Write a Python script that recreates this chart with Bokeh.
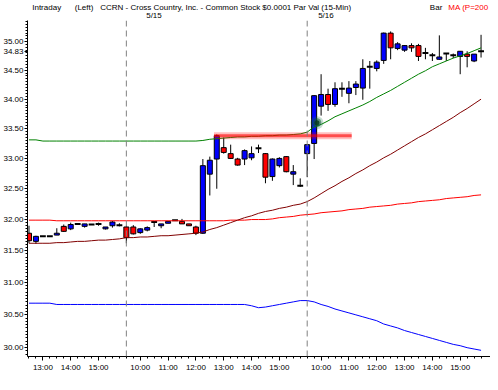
from bokeh.plotting import figure
from bokeh.layouts import column
from bokeh.models import Range1d, FixedTicker, NumeralTickFormatter, Label, Span, ColumnDataSource
from bokeh.embed import file_html
from bokeh.resources import INLINE

# ---------------- data (15-minute bars, 5/14 12:30 -> 5/16 15:45) ----------------
opens = [31.78, 31.65, 31.73, 31.73, 31.75, 31.89, 31.85, 31.93, 31.89, 31.92,
         31.93, 31.85, 31.90, 31.91, 31.88, 31.88, 31.79, 31.83, 31.96, 31.90,
         31.94, 31.99, 31.97, 31.93, 31.88, 31.78, 32.74, 32.99, 33.18, 33.08,
         32.99, 32.99, 33.01, 33.17, 33.08, 32.70, 32.88, 33.03, 32.74, 32.55,
         33.08, 33.25, 33.88, 34.08, 33.91, 34.18, 34.10, 34.20, 34.19, 34.56,
         34.53, 34.67, 35.15, 34.88, 34.85, 34.93, 34.93, 34.80, 34.76, 34.69,
         34.79, 34.76, 34.74, 34.78, 34.66, 34.83]
highs = [31.90, 31.74, 31.73, 31.73, 31.86, 31.92, 31.95, 31.93, 31.93, 31.92,
         31.95, 31.88, 31.98, 31.94, 31.90, 31.91, 31.86, 31.89, 31.96, 31.93,
         31.97, 31.99, 32.01, 31.93, 31.90, 32.99, 33.03, 33.40, 33.35, 33.23,
         33.01, 33.15, 33.20, 33.23, 33.09, 33.00, 33.02, 33.04, 32.89, 32.67,
         33.24, 34.07, 34.43, 34.18, 34.29, 34.29, 34.31, 34.31, 34.69, 34.66,
         34.67, 35.16, 35.18, 34.99, 34.94, 34.97, 34.96, 34.89, 34.80, 35.11,
         34.79, 34.79, 34.83, 34.83, 34.78, 35.12]
lows = [31.62, 31.61, 31.73, 31.73, 31.75, 31.80, 31.83, 31.93, 31.87, 31.92,
        31.90, 31.84, 31.87, 31.89, 31.62, 31.76, 31.77, 31.81, 31.88, 31.86,
        31.94, 31.99, 31.93, 31.90, 31.75, 31.77, 32.39, 32.50, 33.08, 32.99,
        32.88, 32.89, 32.97, 33.09, 32.59, 32.63, 32.85, 32.77, 32.56, 32.53,
        32.69, 32.99, 33.72, 33.80, 33.87, 34.04, 33.93, 34.07, 33.99, 34.18,
        34.48, 34.61, 34.69, 34.85, 34.82, 34.82, 34.66, 34.69, 34.66, 34.68,
        34.66, 34.71, 34.43, 34.55, 34.64, 34.72]
closes = [31.66, 31.73, 31.73, 31.73, 31.78, 31.81, 31.92, 31.93, 31.93, 31.92,
          31.93, 31.88, 31.96, 31.91, 31.71, 31.77, 31.85, 31.87, 31.96, 31.93,
          31.97, 31.99, 31.93, 31.90, 31.78, 32.88, 32.97, 33.38, 33.10, 33.00,
          32.89, 33.13, 33.08, 33.17, 32.69, 32.99, 33.00, 32.78, 32.78, 32.55,
          33.23, 34.06, 34.08, 33.91, 34.18, 34.18, 34.19, 34.26, 34.53, 34.56,
          34.64, 35.15, 34.89, 34.96, 34.93, 34.89, 34.74, 34.80, 34.76, 34.73,
          34.79, 34.76, 34.83, 34.74, 34.78, 34.83]

ma_green = [33.31, 33.31, 33.29, 33.29, 33.29, 33.29, 33.29, 33.29, 33.29, 33.29,
            33.29, 33.29, 33.29, 33.29, 33.29, 33.29, 33.29, 33.29, 33.29, 33.29,
            33.29, 33.29, 33.29, 33.29, 33.29, 33.30, 33.32, 33.33, 33.34, 33.35,
            33.36, 33.36, 33.37, 33.37, 33.38, 33.38, 33.39, 33.39, 33.40, 33.41,
            33.44, 33.53, 33.57, 33.63, 33.70, 33.75, 33.80, 33.85, 33.90, 33.96,
            34.03, 34.09, 34.15, 34.22, 34.29, 34.36, 34.43, 34.49, 34.56, 34.61,
            34.66, 34.71, 34.75, 34.79, 34.84, 34.89]
ma_red = [31.99, 31.99, 31.99, 31.99, 31.98, 31.98, 31.98, 31.98, 31.98, 31.98,
          31.98, 31.98, 31.98, 31.98, 31.98, 31.98, 31.98, 31.98, 31.98, 31.98,
          31.98, 31.98, 31.98, 31.98, 31.98, 31.98, 31.98, 31.98, 31.98, 31.99,
          31.99, 31.99, 32.00, 32.00, 32.00, 32.01, 32.03, 32.04, 32.05, 32.07,
          32.08, 32.09, 32.11, 32.12, 32.13, 32.14, 32.16, 32.17, 32.18, 32.20,
          32.21, 32.22, 32.23, 32.25, 32.26, 32.27, 32.29, 32.30, 32.31, 32.32,
          32.34, 32.35, 32.36, 32.37, 32.39, 32.40]
ma_maroon = [31.62, 31.62, 31.62, 31.62, 31.63, 31.63, 31.64, 31.65, 31.65, 31.66,
             31.67, 31.67, 31.68, 31.69, 31.71, 31.71, 31.72, 31.72, 31.73, 31.74,
             31.74, 31.75, 31.76, 31.77, 31.78, 31.80, 31.84, 31.87, 31.91, 31.95,
             31.99, 32.03, 32.06, 32.10, 32.13, 32.15, 32.18, 32.20, 32.23, 32.25,
             32.29, 32.35, 32.42, 32.49, 32.55, 32.62, 32.68, 32.75, 32.81, 32.88,
             32.94, 33.01, 33.07, 33.14, 33.21, 33.28, 33.35, 33.41, 33.48, 33.55,
             33.62, 33.69, 33.77, 33.84, 33.92, 34.00]
ma_blue = [30.68, 30.68, 30.68, 30.68, 30.66, 30.66, 30.66, 30.66, 30.66, 30.66,
           30.66, 30.66, 30.66, 30.66, 30.66, 30.66, 30.66, 30.66, 30.66, 30.66,
           30.66, 30.66, 30.66, 30.66, 30.66, 30.66, 30.66, 30.66, 30.66, 30.66,
           30.66, 30.66, 30.64, 30.61, 30.62, 30.64, 30.66, 30.68, 30.70, 30.72,
           30.72, 30.70, 30.66, 30.63, 30.59, 30.56, 30.53, 30.50, 30.47, 30.44,
           30.41, 30.36, 30.33, 30.30, 30.26, 30.23, 30.20, 30.17, 30.14, 30.11,
           30.08, 30.05, 30.03, 30.00, 29.98, 29.96]

hour_ticks = [2, 6, 10, 16, 20, 24, 28, 32, 36, 42, 46, 50, 54, 58, 62]
hour_labels = ["13:00", "14:00", "15:00", "10:00", "11:00", "12:00", "13:00", "14:00",
               "15:00", "10:00", "11:00", "12:00", "13:00", "14:00", "15:00"]
day_starts = [14, 40]
day_labels = ["5/15", "5/16"]
price_ticks = [30.0, 30.5, 31.0, 31.5, 32.0, 32.5, 33.0, 33.5, 34.0, 34.5, 35.0, 34.83]
trend_x = [26.6, 46.4]
trend_y = 33.38
blob_x = 41.4
blob_y = 33.60

# ---------------- geometry ----------------
W = 490
HEAD_H = 20
MAIN_H = 354
LEFT = 24            # width of the price-axis border
BOTTOM = 16
X_START, X_END = -0.214, 66.357
Y_BOT, Y_TOP = 29.867, 35.374
FONT = "Liberation Sans"

n = len(opens)
idx = list(range(n))

# ---------------- header strip (same x scale as the chart below) ----------------
px_per_unit = (W - LEFT) / (X_END - X_START)
HX0 = X_START - LEFT / px_per_unit          # data value at the header's left edge
head = figure(width=W, height=HEAD_H, output_backend="svg", toolbar_location=None,
              title=None, x_axis_location=None, y_axis_location=None,
              x_range=Range1d(HX0, X_END), y_range=Range1d(0, 1),
              min_border=0, min_border_left=0, min_border_right=0,
              min_border_top=0, min_border_bottom=0)
head.outline_line_color = None
head.grid.visible = False
head.background_fill_color = "white"
head.border_fill_color = "white"

def hdr(px, text, color="black", align="left"):
    head.add_layout(Label(x=HX0 + px / px_per_unit, y=13.5, x_units="data", y_units="screen",
                          text=text, text_font=FONT, text_font_size="8px", text_color=color,
                          text_baseline="middle", text_align=align))

hdr(5, "Intraday")
hdr(50, "(Left)")
hdr(77, "CCRN - Cross Country, Inc. - Common Stock $0.0001 Par Val  (15-Min)")
hdr(439, "Bar", align="right")
hdr(488, "MA (P=200", "#FF0000", align="right")

for d, s in zip(day_starts, day_labels):
    head.add_layout(Label(x=d, y=5, x_units="data", y_units="screen", text=s, x_offset=2,
                          text_font=FONT, text_font_size="8px", text_color="black",
                          text_baseline="middle", text_align="left"))

# ---------------- main chart ----------------
p = figure(width=W, height=MAIN_H, output_backend="svg", toolbar_location=None,
           title=None, y_axis_type="log",
           x_range=Range1d(X_START, X_END), y_range=Range1d(Y_BOT, Y_TOP),
           min_border_left=LEFT, min_border_right=0, min_border_top=0,
           min_border_bottom=BOTTOM)
p.outline_line_color = None
p.grid.visible = False
p.background_fill_color = "white"
p.border_fill_color = "white"

for ax in (p.xaxis[0], p.yaxis[0]):
    ax.axis_line_color = "black"
    ax.major_tick_line_color = "black"
    ax.minor_tick_line_color = "black"
    ax.major_label_text_font = FONT
    ax.major_label_text_font_size = "8px"
    ax.major_label_text_color = "black"
    ax.major_tick_in = 0
    ax.minor_tick_in = 0

p.xaxis.ticker = FixedTicker(ticks=hour_ticks, minor_ticks=idx)
p.xaxis.major_label_overrides = {t: s for t, s in zip(hour_ticks, hour_labels)}
p.xaxis.major_tick_out = 4
p.xaxis.minor_tick_out = 2
p.xaxis.major_label_standoff = 2

y_minor = [round(29.9 + 0.05 * k, 2) for k in range(0, 110)]
p.yaxis.ticker = FixedTicker(ticks=price_ticks, minor_ticks=y_minor)
p.yaxis.formatter = NumeralTickFormatter(format="0.00")
p.yaxis.major_tick_out = 3
p.yaxis.minor_tick_out = 2
p.yaxis.major_label_standoff = 1

# day separators
for d in day_starts:
    p.add_layout(Span(location=d, dimension="height", line_color="#808080",
                      line_dash="6 4", line_width=1))

# candles
up = dict(x=[], top=[], bottom=[])
dn = dict(x=[], top=[], bottom=[])
dj = dict(x0=[], x1=[], y=[])
for i in idx:
    o, c = opens[i], closes[i]
    if c > o:
        up["x"].append(i); up["top"].append(c); up["bottom"].append(o)
    elif c < o:
        dn["x"].append(i); dn["top"].append(o); dn["bottom"].append(c)
    else:
        dj["x0"].append(i - 0.42); dj["x1"].append(i + 0.42); dj["y"].append(c)

p.segment(x0=idx, x1=idx, y0=lows, y1=highs, line_color="black", line_width=1)
p.vbar(x="x", top="top", bottom="bottom", width=0.72, source=ColumnDataSource(up),
       fill_color="#0000FF", line_color="black", line_width=1)
p.vbar(x="x", top="top", bottom="bottom", width=0.72, source=ColumnDataSource(dn),
       fill_color="#FF0000", line_color="black", line_width=1)
p.segment(x0="x0", x1="x1", y0="y", y1="y", source=ColumnDataSource(dj),
          line_color="black", line_width=2)

# moving averages
p.line(idx, ma_green, line_color="#008000", line_width=1)
p.line(idx, ma_red, line_color="#FF0000", line_width=1)
p.line(idx, ma_maroon, line_color="#800000", line_width=1)
p.line(idx, ma_blue, line_color="#0000FF", line_width=1)

# drawn trend line and marker
p.line(trend_x, [trend_y, trend_y], line_color="#FF0000", line_alpha=0.25, line_width=7)
p.line(trend_x, [trend_y, trend_y], line_color="#FF0000", line_alpha=0.6, line_width=3)
p.scatter([blob_x], [blob_y], size=13, fill_color="#1f7a4a", fill_alpha=0.25, line_color=None)
p.scatter([blob_x], [blob_y], size=9, fill_color="#0f5a35", fill_alpha=0.55, line_color=None)
p.scatter([blob_x], [blob_y], size=5, fill_color="#083d22", fill_alpha=0.85, line_color=None)

layout = column(head, p, spacing=0)
open("out.html", "w").write(file_html(layout, INLINE))
